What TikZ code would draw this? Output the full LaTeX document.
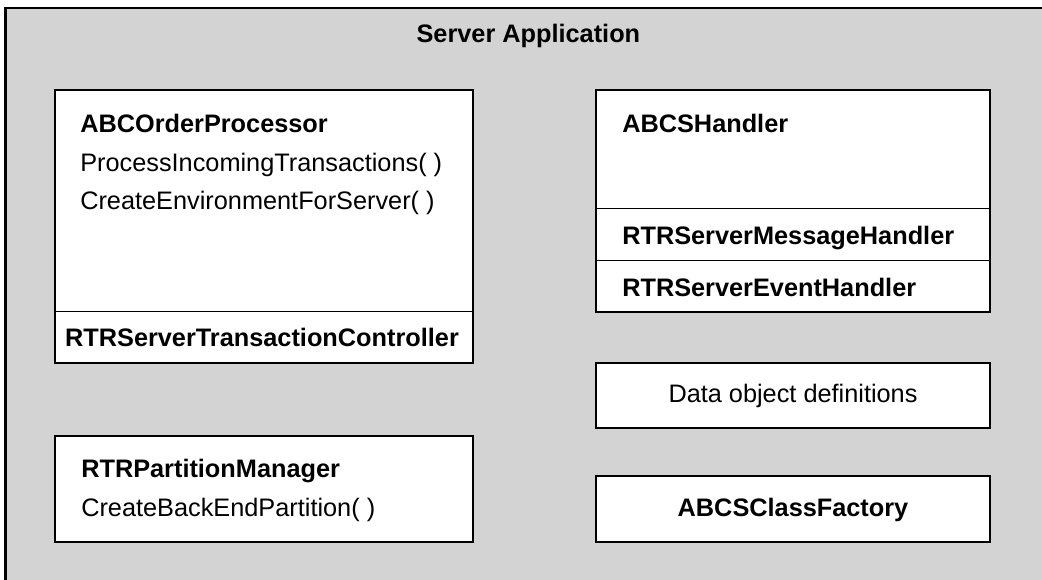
\documentclass[tikz,border=0pt]{standalone}
\usepackage{fontspec}
\setmainfont{Liberation Sans}
\definecolor{appgray}{RGB}{211,211,211}
\tikzset{
	frame/.style={draw=black, fill=appgray, line width=0.05cm},
	classbox/.style={draw=black, fill=white, line width=0.05cm},
	divline/.style={line width=0.025cm},
	txt/.style={anchor=base west, inner sep=0pt, font=\fontsize{18}{22}\selectfont},
	btxt/.style={txt, font=\fontsize{18}{22}\selectfont\bfseries},
	mid/.style={anchor=base},
}

\begin{document}
\begin{tikzpicture}
			%%%%% START %%%%%
			
			\useasboundingbox (0, 0) rectangle (26.05, 14.5);
			\clip (0, 0) rectangle (26.05, 14.5);
			
			\draw[frame] (0.1375, -1) rectangle (27, 14.3);
			\node[btxt, mid] (app) at (13.21, 13.425) {Server Application};
			
			\draw[classbox] (1.375, 5.425) rectangle (11.825, 12.25);
			\draw[divline] (1.375, 6.7) -- (11.825, 6.7);
			\node[btxt] (proc) at (2.0, 11.175) {ABCOrderProcessor};
			\node[txt] (procin) at (2.0, 10.2) {ProcessIncomingTransactions( )};
			\node[txt] (procenv) at (2.0, 9.25) {CreateEnvironmentForServer( )};
			\node[btxt, mid] (ctrl) at (6.55, 5.825) {RTRServerTransactionController};
			
			\draw[classbox] (14.9, 6.7) rectangle (24.75, 12.25);
			\draw[divline] (14.9, 9.275) -- (24.75, 9.275);
			\draw[divline] (14.9, 7.975) -- (24.75, 7.975);
			\node[btxt] (hdl) at (15.55, 11.175) {ABCSHandler};
			\node[btxt] (msghdl) at (15.55, 8.375) {RTRServerMessageHandler};
			\node[btxt] (evthdl) at (15.55, 7.075) {RTRServerEventHandler};
			
			\draw[classbox] (14.9, 3.7875) rectangle (24.75, 5.425);
			\node[txt, mid] (data) at (19.825, 4.425) {Data object definitions};
			
			\draw[classbox] (1.3625, 0.9375) rectangle (11.825, 3.6);
			\node[btxt] (part) at (2.025, 2.55) {RTRPartitionManager};
			\node[txt] (partnew) at (2.025, 1.575) {CreateBackEndPartition( )};
			
			\draw[classbox] (14.9, 0.9375) rectangle (24.75, 2.5875);
			\node[btxt, mid] (fact) at (19.825, 1.575) {ABCSClassFactory};
			
			%%%%% END %%%%%
\end{tikzpicture}
\end{document}
